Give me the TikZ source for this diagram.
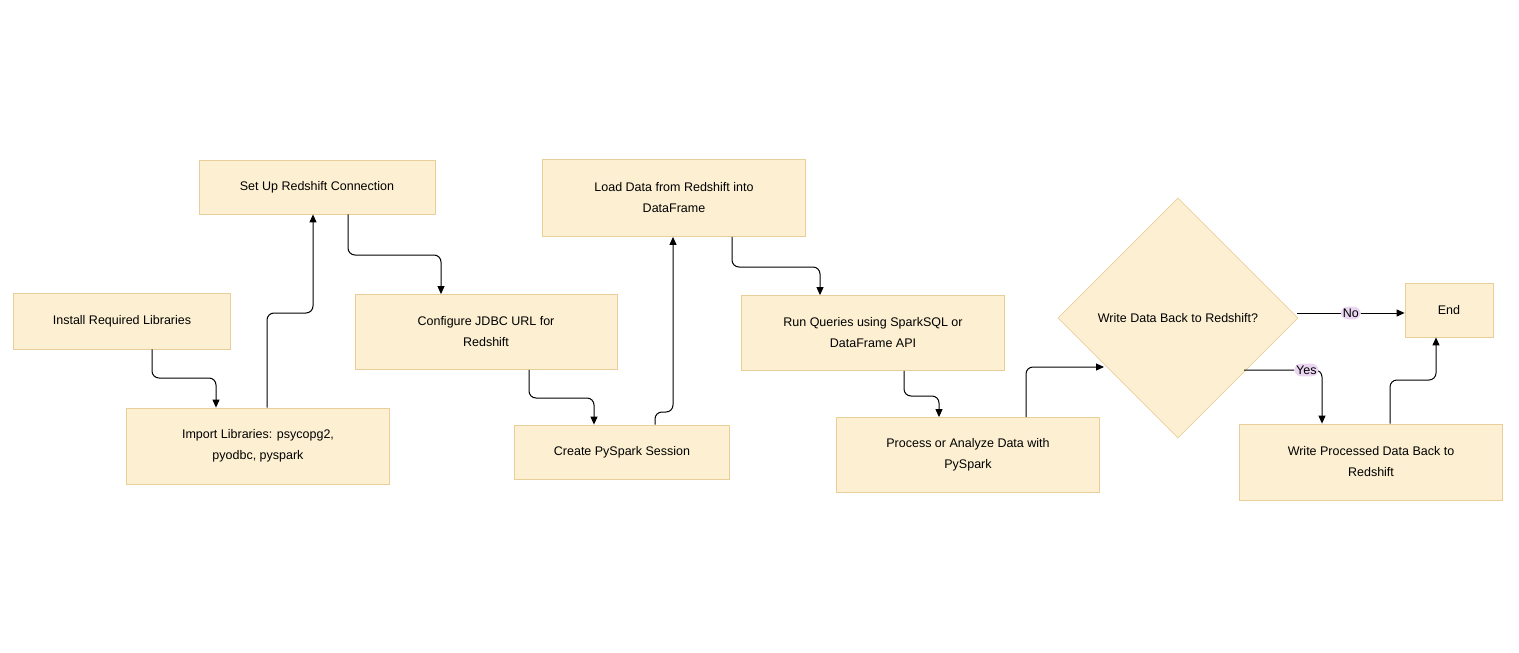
\documentclass[tikz,border=0pt]{standalone}
\usepackage{fontspec}
\setmainfont{Liberation Sans}
\usetikzlibrary{arrows.meta,shapes.geometric}
\begin{document}
\begin{tikzpicture}[x=1pt,y=-1pt,
  box/.style={draw=boxline,fill=boxfill,line width=0.8pt,align=center,font=\fontsize{12.5}{21}\selectfont,inner sep=0pt},
  edge/.style={draw=black,line width=1pt,rounded corners=7pt,-{Triangle[length=8pt,width=7pt]}},
  lbl/.style={fill=lblfill,font=\fontsize{12.5}{14}\selectfont,inner sep=2pt}]
\definecolor{boxfill}{HTML}{FDF0D2}
\definecolor{boxline}{HTML}{E8CF9A}
\definecolor{lblfill}{HTML}{EBD6F2}
\useasboundingbox (0,0) rectangle (1519,653);
\node[box,minimum width=217,minimum height=56] (install) at (122,321) {Install Required Libraries};
\node[box,minimum width=263,minimum height=76] (import) at (258,446) {Import Libraries: psycopg2,\\pyodbc, pyspark};
\node[box,minimum width=236,minimum height=54] (setup) at (317,187) {Set Up Redshift Connection};
\node[box,minimum width=262,minimum height=75] (conf) at (486,332) {Configure JDBC URL for\\Redshift};
\node[box,minimum width=215,minimum height=54] (create) at (622,452) {Create PySpark Session};
\node[box,minimum width=263,minimum height=77] (load) at (674,198) {Load Data from Redshift into\\DataFrame};
\node[box,minimum width=263,minimum height=75] (run) at (873,333) {Run Queries using SparkSQL or\\DataFrame API};
\node[box,minimum width=263,minimum height=75] (proc) at (968,455) {Process or Analyze Data with\\PySpark};
\node[box,diamond,aspect=1,minimum width=240,minimum height=240] (dec) at (1178,318) {Write Data Back to Redshift?};
\node[box,minimum width=263,minimum height=76] (wpd) at (1371,462) {Write Processed Data Back to\\Redshift};
\node[box,minimum width=88,minimum height=54] (end) at (1449,310) {End};

\coordinate (a) at (152,349);
\draw[edge] (install.south -| a) |- (216,378) -- (import.north -| 216,0);
\draw[edge] (import.north -| 267,0) |- (313,313) -- (setup.south -| 313,0);
\draw[edge] (setup.south -| 348,0) |- (441,255) -- (conf.north -| 441,0);
\draw[edge] (conf.south -| 529,0) |- (594,398) -- (create.north -| 594,0);
\draw[edge] (create.north -| 655,0) |- (673,412) -- (load.south -| 673,0);
\draw[edge] (load.south -| 732,0) |- (820,267) -- (run.north -| 820,0);
\draw[edge] (run.south -| 904,0) |- (939,396) -- (proc.north -| 939,0);
\draw[edge] (proc.north -| 1026,0) |- (1104,367);
\draw[edge] (1297,313) -- (end.west |- 0,313) node[lbl,midway] {No};
\draw[edge] (1244,370) -| (wpd.north -| 1322,0) node[lbl,pos=0.4] {Yes};
\draw[edge] (wpd.north -| 1390,0) |- (1436,380) -- (end.south -| 1436,0);
\end{tikzpicture}
\end{document}
